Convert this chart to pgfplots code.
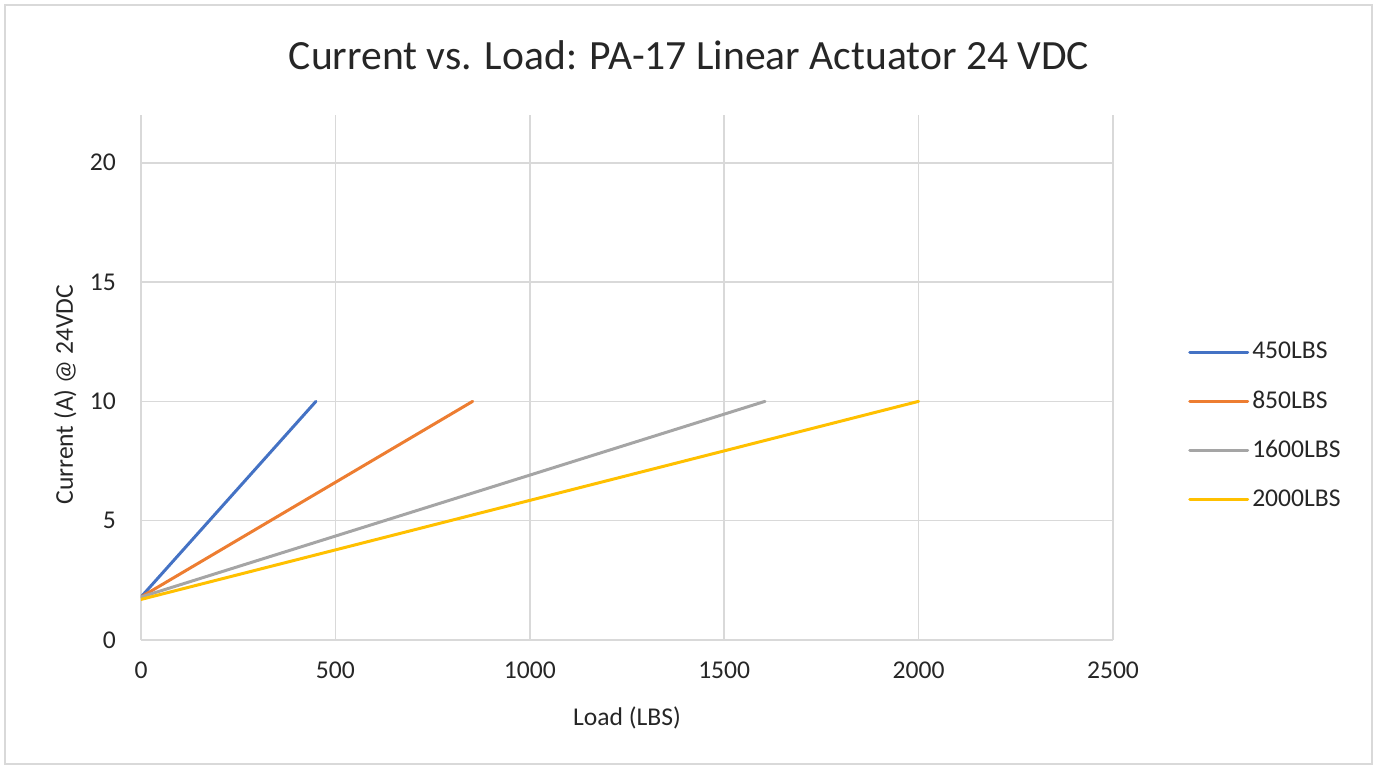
\documentclass[border=0pt]{standalone}
\usepackage{pgfplots}
\pgfplotsset{compat=1.18}
\usepackage{fontspec}
\setmainfont{Carlito}
\definecolor{s1}{HTML}{4472C4}
\definecolor{s2}{HTML}{ED7D31}
\definecolor{s3}{HTML}{A5A5A5}
\definecolor{s4}{HTML}{FFC000}
\definecolor{gridc}{HTML}{D9D9D9}
\definecolor{txt}{HTML}{262626}
\begin{document}
\begin{tikzpicture}
\path[use as bounding box] (-70.5pt,-64.5pt) rectangle (618pt,320pt);
\draw[gridc, line width=1pt] (-68pt,-62pt) rectangle (615.5pt,317.5pt);
\begin{axis}[
  at={(0,0)}, anchor=south west,
  scale only axis, width=486pt, height=262.5pt,
  xmin=0, xmax=2500, ymin=0, ymax=22,
  xtick={0,500,...,2500}, ytick={0,5,...,20},
  grid=major, major grid style={gridc, line width=0.8pt},
  axis line style={draw=none},
  major tick length=0pt,
  tick label style={font=\fontsize{12.8}{15}\selectfont, text=txt},
  /pgf/number format/assume math mode=true,
  /pgf/number format/set thousands separator={},
  xticklabel style={yshift=-7.5pt},
  yticklabel style={xshift=-9pt},
  xlabel={Load (LBS)},
  ylabel={Current (A) @ 24VDC},
  label style={font=\fontsize{12.8}{15}\selectfont, text=txt},
  xlabel style={at={(axis description cs:0.5,-0.149)}, anchor=center},
  ylabel style={at={(axis description cs:-0.078,0.467)}, anchor=center, rotate=0},
  legend style={at={(axis description cs:1.077,0.408)}, anchor=west, draw=none, fill=none,
    font=\fontsize{12.8}{15}\selectfont, text=txt, row sep=11.5pt, inner sep=0pt,
    nodes={inner sep=1.5pt}},
  legend cell align=left,
  legend image code/.code={\draw[#1, line width=1.5pt] (0pt,0pt) -- (29pt,0pt);},
  every axis plot/.append style={line width=1.5pt},
]
\addplot[s1, line cap=round] coordinates {(0,1.8) (450,10)};
\addlegendentry{450LBS}
\addplot[s2, line cap=round] coordinates {(0,1.8) (853,10)};
\addlegendentry{850LBS}
\addplot[s3, line cap=round] coordinates {(0,1.8) (1605,10)};
\addlegendentry{1600LBS}
\addplot[s4, line cap=round] coordinates {(0,1.7) (2000,10)};
\addlegendentry{2000LBS}
\end{axis}
\node[font=\fontsize{20.8}{25}\selectfont, text=txt] at (274pt,292.5pt) {Current vs. Load: PA-17 Linear Actuator 24 VDC};
\end{tikzpicture}
\end{document}
